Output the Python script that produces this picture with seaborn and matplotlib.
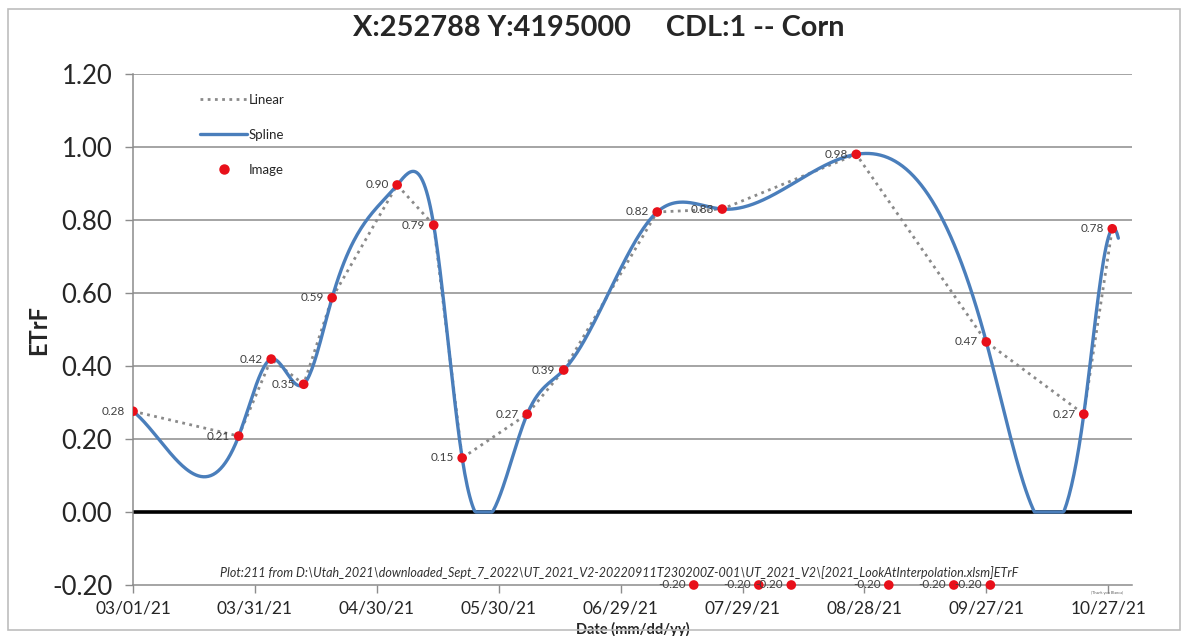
import numpy as np
import pandas as pd
import matplotlib
matplotlib.use("Agg")
import matplotlib.pyplot as plt
import matplotlib.dates as mdates
from matplotlib.lines import Line2D
from matplotlib.patches import Rectangle
import seaborn as sns

# ETrF from clear image dates
image_dates = ["2021-03-01", "2021-03-27", "2021-04-04", "2021-04-12", "2021-04-19",
               "2021-05-05", "2021-05-14", "2021-05-21", "2021-06-06", "2021-06-15",
               "2021-07-08", "2021-07-24", "2021-08-26", "2021-09-27", "2021-10-21",
               "2021-10-28"]
image_etrf = [0.276, 0.208, 0.419, 0.350, 0.587, 0.896, 0.786, 0.148, 0.268, 0.389,
              0.822, 0.830, 0.980, 0.466, 0.268, 0.776]

# cloud-masked dates, flagged with -0.20
masked_dates = ["2021-07-17", "2021-08-02", "2021-08-10", "2021-09-03", "2021-09-19",
                "2021-09-28"]
masked_etrf = [-0.20, -0.20, -0.20, -0.20, -0.20, -0.20]

# end slopes of the spline (ETrF per day)
spline_end_slopes = [-0.009, 0.010]

tick_dates = ["2021-03-01", "2021-03-31", "2021-04-30", "2021-05-30", "2021-06-29",
              "2021-07-29", "2021-08-28", "2021-09-27", "2021-10-27"]
y_ticks = [-0.20, 0.00, 0.20, 0.40, 0.60, 0.80, 1.00, 1.20]

title = "X:252788 Y:4195000     CDL:1 -- Corn"
source_note = (r"Plot:211 from D:\Utah_2021\downloaded_Sept_7_2022\UT_2021_V2-20220911T230200Z-001"
               r"\UT_2021_V2\[2021_LookAtInterpolation.xlsm]ETrF")


def clamped_spline(xk, yk, xs, d0, d1):
    """Cubic spline through (xk, yk) with end slopes d0, d1, evaluated at xs."""
    xk = np.asarray(xk, float)
    yk = np.asarray(yk, float)
    n = len(xk)
    h = np.diff(xk)
    s = np.diff(yk) / h
    A = np.zeros((n, n))
    r = np.zeros(n)
    A[0, 0], A[0, 1], r[0] = 2 * h[0], h[0], 6 * (s[0] - d0)
    A[-1, -2], A[-1, -1], r[-1] = h[-1], 2 * h[-1], 6 * (d1 - s[-1])
    for i in range(1, n - 1):
        A[i, i - 1] = h[i - 1]
        A[i, i] = 2 * (h[i - 1] + h[i])
        A[i, i + 1] = h[i]
        r[i] = 6 * (s[i] - s[i - 1])
    M = np.linalg.solve(A, r)
    idx = np.clip(np.searchsorted(xk, xs) - 1, 0, n - 2)
    x0, x1 = xk[idx], xk[idx + 1]
    hh = x1 - x0
    a = (x1 - xs) / hh
    b = (xs - x0) / hh
    return (a * yk[idx] + b * yk[idx + 1]
            + ((a ** 3 - a) * M[idx] + (b ** 3 - b) * M[idx + 1]) * hh ** 2 / 6.0)


img = pd.DataFrame({"date": pd.to_datetime(image_dates), "etrf": image_etrf})
msk = pd.DataFrame({"date": pd.to_datetime(masked_dates), "etrf": masked_etrf})

x_start = mdates.date2num(pd.Timestamp("2021-03-01"))
x_end = x_start + 245.9

xk = mdates.date2num(img["date"])
grid = np.linspace(x_start, xk[-1] + 1.5, 800)
spl = np.clip(clamped_spline(xk, img["etrf"].values, grid, *spline_end_slopes), 0, None)
spline_df = pd.DataFrame({"date": mdates.num2date(grid), "etrf": spl})

sns.set_theme(style="white")
plt.rcParams["font.family"] = ["Lato", "DejaVu Sans"]

fig = plt.figure(figsize=(11.88, 6.36), dpi=100)
ax = fig.add_axes([0.112, 0.0802, 0.841, 0.8034])

# chart frame
fig.patches.append(Rectangle((0.007, 0.009), 0.986, 0.977, transform=fig.transFigure,
                             fill=False, edgecolor="#bdbdbd", linewidth=1.2, zorder=0))

# horizontal gridlines + zero line
for yv in y_ticks[2:]:
    ax.axhline(yv, color="#8c8c8c", linewidth=1.1, zorder=1)
ax.axhline(0.0, color="black", linewidth=2.6, zorder=2)

sns.lineplot(data=img, x="date", y="etrf", ax=ax, color="#8a8a8a", linewidth=2.0,
             linestyle=(0, (1, 1.6)), zorder=3, legend=False)
sns.lineplot(data=spline_df, x="date", y="etrf", ax=ax, color="#4a7ebb", linewidth=2.4,
             zorder=4, legend=False, estimator=None, sort=False)
sns.scatterplot(data=img, x="date", y="etrf", ax=ax, color="#e8101a", s=48,
                edgecolor="none", zorder=5, legend=False)
sns.scatterplot(data=msk, x="date", y="etrf", ax=ax, color="#e8101a", s=48,
                edgecolor="none", zorder=5, legend=False, clip_on=False)

# value labels left of each point
for d, v in zip(img["date"], img["etrf"]):
    ax.annotate(f"{v:.2f}", (mdates.date2num(d), v), xytext=(-6, 0),
                textcoords="offset points", ha="right", va="center",
                fontsize=8.5, color="#404040", zorder=6)
for d, v in zip(msk["date"], msk["etrf"]):
    ax.annotate(f"{v:.2f}", (mdates.date2num(d), v), xytext=(-6, 0),
                textcoords="offset points", ha="right", va="center",
                fontsize=8.5, color="#404040", zorder=6, annotation_clip=False)

ax.set_xlim(x_start, x_end)
ax.set_ylim(-0.20, 1.20)
ax.set_yticks(y_ticks)
ax.set_yticklabels([f"{t:.2f}" for t in y_ticks], fontsize=18.5)
ticks = mdates.date2num(pd.to_datetime(tick_dates))
ax.set_xticks(ticks)
ax.set_xticklabels([pd.Timestamp(t).strftime("%m/%d/%y") for t in tick_dates], fontsize=12.5)
ax.tick_params(axis="both", which="both", direction="out", length=6, width=1,
               color="#8c8c8c", bottom=True, left=True)
ax.tick_params(axis="y", pad=9)
ax.tick_params(axis="x", pad=5)

for s in ["top", "right"]:
    ax.spines[s].set_visible(False)
for s in ["left", "bottom"]:
    ax.spines[s].set_color("#8c8c8c")
    ax.spines[s].set_linewidth(1.1)

ax.set_xlabel("Date (mm/dd/yy)", fontsize=10.5, fontweight="bold", labelpad=4)
ax.set_ylabel("ETrF", fontsize=17, fontweight="bold")
ax.yaxis.set_label_coords(-0.083, 0.5)
fig.text(0.504, 0.956, title, ha="center", va="center", fontsize=20.8, fontweight="bold")

ax.text(0.487, 0.012, source_note, transform=ax.transAxes, ha="center", va="bottom",
        fontsize=9, style="italic", color="#303030")
ax.text(0.975, -0.012, "(Thank you Blanca)", transform=ax.transAxes, ha="center",
        va="top", fontsize=2.8, color="#606060")

handles = [
    Line2D([], [], color="#8a8a8a", linewidth=2.0, linestyle=(0, (1, 1.6))),
    Line2D([], [], color="#4a7ebb", linewidth=2.4),
    Line2D([], [], color="#e8101a", marker="o", linestyle="none", markersize=6.5),
]
ax.legend(handles, ["Linear", "Spline", "Image"], loc="upper left",
          bbox_to_anchor=(0.055, 0.985), frameon=False, fontsize=9.5,
          handlelength=3.6, handletextpad=0.1, labelspacing=1.75)

fig.savefig("out.png", dpi=100)
